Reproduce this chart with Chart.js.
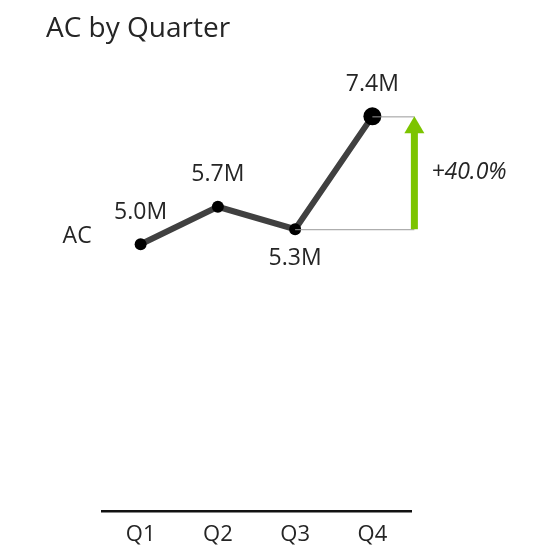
<!DOCTYPE html>
<html>
<head>
<meta charset="utf-8">
<script src="https://cdn.jsdelivr.net/npm/chart.js@4/dist/chart.umd.min.js"></script>
<style>
  html, body { margin: 0; padding: 0; background: #fff; }
  #wrap { width: 560px; height: 560px; position: relative; }
</style>
</head>
<body>
<div id="wrap"><canvas id="acChart"></canvas></div>
<script>
const quarters = ['Q1', 'Q2', 'Q3', 'Q4'];
const acValues = [5.0, 5.7, 5.28, 7.39];
const labelSides = ['top', 'top', 'bottom', 'top'];
const seriesName = 'AC';
const chartTitle = 'AC by Quarter';

const FONT = '"Open Sans", "Noto Sans", sans-serif';
const TEXT = '#252525';

const formatM = (v) => `${v.toFixed(1)}M`;

const annotations = {
    id: 'annotations',
    afterDatasetsDraw(chart) {
        const { ctx } = chart;
        const xs = chart.scales.x;
        const ys = chart.scales.y;
        const meta = chart.getDatasetMeta(0);

        ctx.save();

        // title
        ctx.fillStyle = TEXT;
        ctx.font = `28px ${FONT}`;
        ctx.textAlign = 'left';
        ctx.textBaseline = 'middle';
        ctx.fillText(chartTitle, 46, 29);

        // value labels
        ctx.font = `23px ${FONT}`;
        ctx.textAlign = 'center';
        meta.data.forEach((pt, i) => {
            const dy = labelSides[i] === 'top' ? -32 : 29;
            ctx.fillText(formatM(acValues[i]), pt.x, pt.y + dy);
        });

        // series name
        const first = meta.data[0];
        ctx.textAlign = 'right';
        ctx.fillText(seriesName, first.x - 49, first.y - 8);

        // difference: last vs previous
        const n = acValues.length;
        const prev = meta.data[n - 2];
        const last = meta.data[n - 1];
        const arrowX = xs.getPixelForValue(n - 1) + 42;
        const yFrom = ys.getPixelForValue(acValues[n - 2]);
        const yTo = ys.getPixelForValue(acValues[n - 1]);

        ctx.strokeStyle = '#9a9a9a';
        ctx.lineWidth = 1;
        ctx.beginPath();
        ctx.moveTo(prev.x, yFrom + 0.5);
        ctx.lineTo(arrowX, yFrom + 0.5);
        ctx.moveTo(last.x, yTo + 0.5);
        ctx.lineTo(arrowX, yTo + 0.5);
        ctx.stroke();

        ctx.fillStyle = '#7cc400';
        ctx.fillRect(arrowX - 3.5, yTo + 14, 7, yFrom - yTo - 14);
        ctx.beginPath();
        ctx.moveTo(arrowX, yTo);
        ctx.lineTo(arrowX + 10, yTo + 17);
        ctx.lineTo(arrowX - 10, yTo + 17);
        ctx.closePath();
        ctx.fill();

        const pct = (acValues[n - 1] / acValues[n - 2] - 1) * 100;
        ctx.fillStyle = TEXT;
        ctx.font = `italic 23px ${FONT}`;
        ctx.textAlign = 'left';
        ctx.fillText(`${pct >= 0 ? '+' : ''}${pct.toFixed(1)}%`, arrowX + 17, (yFrom + yTo) / 2);

        ctx.restore();
    },
};

new Chart(document.getElementById('acChart'), {
    type: 'line',
    data: {
        labels: quarters,
        datasets: [
            {
                label: seriesName,
                data: acValues,
                borderColor: '#404040',
                borderWidth: 6,
                pointBackgroundColor: '#000',
                pointBorderWidth: 0,
                pointRadius: acValues.map((v, i) => (i === acValues.length - 1 ? 9 : 6)),
                tension: 0,
                clip: false,
            },
        ],
    },
    options: {
        responsive: true,
        maintainAspectRatio: false,
        animation: false,
        layout: {
            padding: { top: 57, left: 102, right: 149, bottom: 2 },
        },
        plugins: {
            legend: { display: false },
            tooltip: { enabled: false },
        },
        scales: {
            x: {
                offset: true,
                grid: { display: false, drawTicks: false },
                border: { display: true, color: '#111', width: 2.5 },
                ticks: {
                    color: TEXT,
                    padding: 10,
                    font: { family: FONT, size: 22 },
                },
            },
            y: {
                display: false,
                min: 0,
                max: 8.5,
            },
        },
    },
    plugins: [annotations],
});
</script>
</body>
</html>
